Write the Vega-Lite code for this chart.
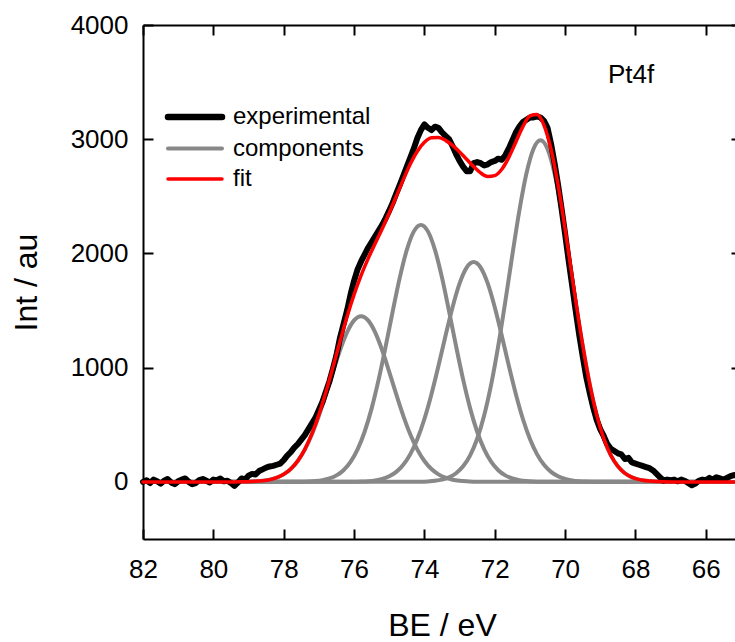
{
  "$schema": "https://vega.github.io/schema/vega-lite/v6.json",
  "width": 598,
  "height": 514,
  "autosize": {"type": "none"},
  "padding": {"left": 143, "top": 25, "right": -6, "bottom": 103},
  "background": "white",
  "config": {
    "view": {"stroke": null},
    "font": "Liberation Sans",
    "axis": {
      "grid": false,
      "domainColor": "black",
      "domainWidth": 2,
      "tickColor": "black",
      "tickWidth": 2,
      "tickSize": -10,
      "labelColor": "black",
      "labelFont": "Liberation Sans",
      "labelFontSize": 26,
      "titleFont": "Liberation Sans",
      "titleFontSize": 32,
      "titleFontWeight": "normal",
      "titleColor": "black",
      "labelFlush": false,
      "labelOverlap": false,
      "format": "d"
    }
  },
  "title": {
    "text": "Pt4f",
    "anchor": "start",
    "frame": "group",
    "dx": 465,
    "offset": -97,
    "baseline": "alphabetic",
    "fontSize": 26,
    "fontWeight": "normal",
    "font": "Liberation Sans",
    "color": "black"
  },
  "datasets": {
    "comp": [
      {"peak": "a", "be": 82, "int": 0}, {"peak": "a", "be": 79.2, "int": 0.9}, {"peak": "a", "be": 79.0, "int": 2.1}, {"peak": "a", "be": 78.8, "int": 4.6}, {"peak": "a", "be": 78.6, "int": 9.7}, {"peak": "a", "be": 78.4, "int": 19.4}, {"peak": "a", "be": 78.2, "int": 36.7}, {"peak": "a", "be": 78.0, "int": 66}, {"peak": "a", "be": 77.8, "int": 112.8}, {"peak": "a", "be": 77.6, "int": 183.3}, {"peak": "a", "be": 77.4, "int": 282.9}, {"peak": "a", "be": 77.2, "int": 414.8}, {"peak": "a", "be": 77.0, "int": 578.3}, {"peak": "a", "be": 76.8, "int": 765.7}, {"peak": "a", "be": 76.6, "int": 963.7}, {"peak": "a", "be": 76.4, "int": 1152.3}, {"peak": "a", "be": 76.2, "int": 1309.2}, {"peak": "a", "be": 76.0, "int": 1413.5}, {"peak": "a", "be": 75.8, "int": 1450}, {"peak": "a", "be": 75.6, "int": 1413.5}, {"peak": "a", "be": 75.4, "int": 1309.2}, {"peak": "a", "be": 75.2, "int": 1152.3}, {"peak": "a", "be": 75.0, "int": 963.7}, {"peak": "a", "be": 74.8, "int": 765.7}, {"peak": "a", "be": 74.6, "int": 578.3}, {"peak": "a", "be": 74.4, "int": 414.8}, {"peak": "a", "be": 74.2, "int": 282.9}, {"peak": "a", "be": 74.0, "int": 183.3}, {"peak": "a", "be": 73.8, "int": 112.8}, {"peak": "a", "be": 73.6, "int": 66}, {"peak": "a", "be": 73.4, "int": 36.7}, {"peak": "a", "be": 73.2, "int": 19.4}, {"peak": "a", "be": 73.0, "int": 9.7}, {"peak": "a", "be": 72.8, "int": 4.6}, {"peak": "a", "be": 72.6, "int": 2.1}, {"peak": "a", "be": 72.4, "int": 0.9}, {"peak": "a", "be": 65, "int": 0},
      {"peak": "b", "be": 82, "int": 0}, {"peak": "b", "be": 77.5, "int": 1.4}, {"peak": "b", "be": 77.3, "int": 3.3}, {"peak": "b", "be": 77.1, "int": 7.2}, {"peak": "b", "be": 76.9, "int": 15.1}, {"peak": "b", "be": 76.7, "int": 30.2}, {"peak": "b", "be": 76.5, "int": 56.9}, {"peak": "b", "be": 76.3, "int": 102.4}, {"peak": "b", "be": 76.1, "int": 175.1}, {"peak": "b", "be": 75.9, "int": 284.4}, {"peak": "b", "be": 75.7, "int": 439}, {"peak": "b", "be": 75.5, "int": 643.7}, {"peak": "b", "be": 75.3, "int": 897.3}, {"peak": "b", "be": 75.1, "int": 1188.2}, {"peak": "b", "be": 74.9, "int": 1495.4}, {"peak": "b", "be": 74.7, "int": 1788.1}, {"peak": "b", "be": 74.5, "int": 2031.5}, {"peak": "b", "be": 74.3, "int": 2193.3}, {"peak": "b", "be": 74.1, "int": 2250}, {"peak": "b", "be": 73.9, "int": 2193.3}, {"peak": "b", "be": 73.7, "int": 2031.5}, {"peak": "b", "be": 73.5, "int": 1788.1}, {"peak": "b", "be": 73.3, "int": 1495.4}, {"peak": "b", "be": 73.1, "int": 1188.2}, {"peak": "b", "be": 72.9, "int": 897.3}, {"peak": "b", "be": 72.7, "int": 643.7}, {"peak": "b", "be": 72.5, "int": 439}, {"peak": "b", "be": 72.3, "int": 284.4}, {"peak": "b", "be": 72.1, "int": 175.1}, {"peak": "b", "be": 71.9, "int": 102.4}, {"peak": "b", "be": 71.7, "int": 56.9}, {"peak": "b", "be": 71.5, "int": 30.2}, {"peak": "b", "be": 71.3, "int": 15.1}, {"peak": "b", "be": 71.1, "int": 7.2}, {"peak": "b", "be": 70.9, "int": 3.3}, {"peak": "b", "be": 70.7, "int": 1.4}, {"peak": "b", "be": 65, "int": 0},
      {"peak": "c", "be": 82, "int": 0}, {"peak": "c", "be": 76.0, "int": 1.2}, {"peak": "c", "be": 75.8, "int": 2.8}, {"peak": "c", "be": 75.6, "int": 6.2}, {"peak": "c", "be": 75.4, "int": 12.9}, {"peak": "c", "be": 75.2, "int": 25.8}, {"peak": "c", "be": 75.0, "int": 48.7}, {"peak": "c", "be": 74.8, "int": 87.6}, {"peak": "c", "be": 74.6, "int": 149.8}, {"peak": "c", "be": 74.4, "int": 243.3}, {"peak": "c", "be": 74.2, "int": 375.6}, {"peak": "c", "be": 74.0, "int": 550.7}, {"peak": "c", "be": 73.8, "int": 767.7}, {"peak": "c", "be": 73.6, "int": 1016.6}, {"peak": "c", "be": 73.4, "int": 1279.4}, {"peak": "c", "be": 73.2, "int": 1529.8}, {"peak": "c", "be": 73.0, "int": 1738.1}, {"peak": "c", "be": 72.8, "int": 1876.5}, {"peak": "c", "be": 72.6, "int": 1925}, {"peak": "c", "be": 72.4, "int": 1876.5}, {"peak": "c", "be": 72.2, "int": 1738.1}, {"peak": "c", "be": 72.0, "int": 1529.8}, {"peak": "c", "be": 71.8, "int": 1279.4}, {"peak": "c", "be": 71.6, "int": 1016.6}, {"peak": "c", "be": 71.4, "int": 767.7}, {"peak": "c", "be": 71.2, "int": 550.7}, {"peak": "c", "be": 71.0, "int": 375.6}, {"peak": "c", "be": 70.8, "int": 243.3}, {"peak": "c", "be": 70.6, "int": 149.8}, {"peak": "c", "be": 70.4, "int": 87.6}, {"peak": "c", "be": 70.2, "int": 48.7}, {"peak": "c", "be": 70.0, "int": 25.8}, {"peak": "c", "be": 69.8, "int": 12.9}, {"peak": "c", "be": 69.6, "int": 6.2}, {"peak": "c", "be": 69.4, "int": 2.8}, {"peak": "c", "be": 69.2, "int": 1.2}, {"peak": "c", "be": 65, "int": 0},
      {"peak": "d", "be": 82, "int": 0}, {"peak": "d", "be": 74.1, "int": 1.9}, {"peak": "d", "be": 73.9, "int": 4.3}, {"peak": "d", "be": 73.7, "int": 9.6}, {"peak": "d", "be": 73.5, "int": 20}, {"peak": "d", "be": 73.3, "int": 40.1}, {"peak": "d", "be": 73.1, "int": 75.6}, {"peak": "d", "be": 72.9, "int": 136}, {"peak": "d", "be": 72.7, "int": 232.6}, {"peak": "d", "be": 72.5, "int": 377.9}, {"peak": "d", "be": 72.3, "int": 583.3}, {"peak": "d", "be": 72.1, "int": 855.4}, {"peak": "d", "be": 71.9, "int": 1192.4}, {"peak": "d", "be": 71.7, "int": 1579}, {"peak": "d", "be": 71.5, "int": 1987.2}, {"peak": "d", "be": 71.3, "int": 2376.2}, {"peak": "d", "be": 71.1, "int": 2699.7}, {"peak": "d", "be": 70.9, "int": 2914.7}, {"peak": "d", "be": 70.7, "int": 2990}, {"peak": "d", "be": 70.5, "int": 2914.7}, {"peak": "d", "be": 70.3, "int": 2699.7}, {"peak": "d", "be": 70.1, "int": 2376.2}, {"peak": "d", "be": 69.9, "int": 1987.2}, {"peak": "d", "be": 69.7, "int": 1579}, {"peak": "d", "be": 69.5, "int": 1192.4}, {"peak": "d", "be": 69.3, "int": 855.4}, {"peak": "d", "be": 69.1, "int": 583.3}, {"peak": "d", "be": 68.9, "int": 377.9}, {"peak": "d", "be": 68.7, "int": 232.6}, {"peak": "d", "be": 68.5, "int": 136}, {"peak": "d", "be": 68.3, "int": 75.6}, {"peak": "d", "be": 68.1, "int": 40.1}, {"peak": "d", "be": 67.9, "int": 20}, {"peak": "d", "be": 67.7, "int": 9.6}, {"peak": "d", "be": 67.5, "int": 4.3}, {"peak": "d", "be": 67.3, "int": 1.9}, {"peak": "d", "be": 65, "int": 0}
    ],
    "exp": [
      {"be": 82.0, "int": 0}, {"be": 81.9, "int": 15}, {"be": 81.8, "int": -10}, {"be": 81.7, "int": 20}, {"be": 81.6, "int": 5}, {"be": 81.5, "int": -15}, {"be": 81.4, "int": 10}, {"be": 81.3, "int": 25}, {"be": 81.2, "int": -5}, {"be": 81.1, "int": -20},
      {"be": 81.0, "int": 5}, {"be": 80.9, "int": 20}, {"be": 80.8, "int": 30}, {"be": 80.7, "int": 0}, {"be": 80.6, "int": -20}, {"be": 80.5, "int": -10}, {"be": 80.4, "int": 15}, {"be": 80.3, "int": 25}, {"be": 80.2, "int": 10}, {"be": 80.1, "int": -5},
      {"be": 80.0, "int": 20}, {"be": 79.9, "int": 15}, {"be": 79.8, "int": 30}, {"be": 79.7, "int": 5}, {"be": 79.6, "int": 10}, {"be": 79.5, "int": -10}, {"be": 79.4, "int": -35}, {"be": 79.3, "int": -5}, {"be": 79.2, "int": 30}, {"be": 79.1, "int": 20},
      {"be": 79.0, "int": 55}, {"be": 78.9, "int": 70}, {"be": 78.8, "int": 65}, {"be": 78.7, "int": 95}, {"be": 78.6, "int": 110}, {"be": 78.5, "int": 125}, {"be": 78.4, "int": 135}, {"be": 78.3, "int": 140}, {"be": 78.2, "int": 150}, {"be": 78.1, "int": 160},
      {"be": 78.0, "int": 190}, {"be": 77.9, "int": 230}, {"be": 77.8, "int": 260}, {"be": 77.7, "int": 300}, {"be": 77.6, "int": 330}, {"be": 77.5, "int": 370}, {"be": 77.4, "int": 410}, {"be": 77.3, "int": 460}, {"be": 77.2, "int": 510}, {"be": 77.1, "int": 560},
      {"be": 77.0, "int": 630}, {"be": 76.9, "int": 700}, {"be": 76.8, "int": 790}, {"be": 76.7, "int": 880}, {"be": 76.6, "int": 990}, {"be": 76.5, "int": 1110}, {"be": 76.4, "int": 1260}, {"be": 76.3, "int": 1380}, {"be": 76.2, "int": 1500}, {"be": 76.1, "int": 1640},
      {"be": 76.0, "int": 1760}, {"be": 75.9, "int": 1860}, {"be": 75.8, "int": 1930}, {"be": 75.7, "int": 1990}, {"be": 75.6, "int": 2050}, {"be": 75.5, "int": 2100}, {"be": 75.4, "int": 2150}, {"be": 75.3, "int": 2200}, {"be": 75.2, "int": 2250}, {"be": 75.1, "int": 2310},
      {"be": 75.0, "int": 2375}, {"be": 74.9, "int": 2445}, {"be": 74.8, "int": 2525}, {"be": 74.7, "int": 2600}, {"be": 74.6, "int": 2680}, {"be": 74.5, "int": 2760}, {"be": 74.4, "int": 2840}, {"be": 74.3, "int": 2920}, {"be": 74.2, "int": 3010}, {"be": 74.1, "int": 3080},
      {"be": 74.0, "int": 3130}, {"be": 73.9, "int": 3100}, {"be": 73.8, "int": 3080}, {"be": 73.7, "int": 3110}, {"be": 73.6, "int": 3100}, {"be": 73.5, "int": 3060}, {"be": 73.4, "int": 3030}, {"be": 73.3, "int": 3000}, {"be": 73.2, "int": 2940}, {"be": 73.1, "int": 2870},
      {"be": 73.0, "int": 2810}, {"be": 72.9, "int": 2760}, {"be": 72.8, "int": 2720}, {"be": 72.7, "int": 2720}, {"be": 72.6, "int": 2790}, {"be": 72.5, "int": 2800}, {"be": 72.4, "int": 2790}, {"be": 72.3, "int": 2770}, {"be": 72.2, "int": 2780}, {"be": 72.1, "int": 2800},
      {"be": 72.0, "int": 2810}, {"be": 71.9, "int": 2830}, {"be": 71.8, "int": 2820}, {"be": 71.7, "int": 2860}, {"be": 71.6, "int": 2920}, {"be": 71.5, "int": 2990}, {"be": 71.4, "int": 3060}, {"be": 71.3, "int": 3110}, {"be": 71.2, "int": 3150}, {"be": 71.1, "int": 3170},
      {"be": 71.0, "int": 3190}, {"be": 70.9, "int": 3190}, {"be": 70.8, "int": 3200}, {"be": 70.7, "int": 3190}, {"be": 70.6, "int": 3160}, {"be": 70.5, "int": 3100}, {"be": 70.4, "int": 2960}, {"be": 70.3, "int": 2790}, {"be": 70.2, "int": 2600}, {"be": 70.1, "int": 2390},
      {"be": 70.0, "int": 2170}, {"be": 69.9, "int": 1940}, {"be": 69.8, "int": 1720}, {"be": 69.7, "int": 1500}, {"be": 69.6, "int": 1290}, {"be": 69.5, "int": 1100}, {"be": 69.4, "int": 920}, {"be": 69.3, "int": 780}, {"be": 69.2, "int": 650}, {"be": 69.1, "int": 540},
      {"be": 69.0, "int": 460}, {"be": 68.9, "int": 400}, {"be": 68.8, "int": 330}, {"be": 68.7, "int": 290}, {"be": 68.6, "int": 270}, {"be": 68.5, "int": 250}, {"be": 68.4, "int": 240}, {"be": 68.3, "int": 200}, {"be": 68.2, "int": 210}, {"be": 68.1, "int": 170},
      {"be": 68.0, "int": 160}, {"be": 67.9, "int": 150}, {"be": 67.8, "int": 140}, {"be": 67.7, "int": 130}, {"be": 67.6, "int": 120}, {"be": 67.5, "int": 100}, {"be": 67.4, "int": 70}, {"be": 67.3, "int": 40}, {"be": 67.2, "int": 10}, {"be": 67.1, "int": 20},
      {"be": 67.0, "int": 15}, {"be": 66.9, "int": 20}, {"be": 66.8, "int": 5}, {"be": 66.7, "int": 20}, {"be": 66.6, "int": 10}, {"be": 66.5, "int": -10}, {"be": 66.4, "int": -30}, {"be": 66.3, "int": -15}, {"be": 66.2, "int": 10}, {"be": 66.1, "int": 20},
      {"be": 66.0, "int": 15}, {"be": 65.9, "int": 35}, {"be": 65.8, "int": 20}, {"be": 65.7, "int": 40}, {"be": 65.6, "int": 30}, {"be": 65.5, "int": 20}, {"be": 65.4, "int": 35}, {"be": 65.3, "int": 50}, {"be": 65.2, "int": 60}, {"be": 65.1, "int": 55},
      {"be": 65.0, "int": 45}
    ],
    "fit": [
      {"be": 82.0, "int": 0}, {"be": 81.0, "int": 0}, {"be": 80.0, "int": 0}, {"be": 79.4, "int": 0}, {"be": 79.2, "int": 1}, {"be": 79.0, "int": 2}, {"be": 78.8, "int": 5}, {"be": 78.6, "int": 10}, {"be": 78.4, "int": 19}, {"be": 78.2, "int": 37},
      {"be": 78.0, "int": 66}, {"be": 77.8, "int": 113}, {"be": 77.6, "int": 184}, {"be": 77.4, "int": 285}, {"be": 77.2, "int": 420}, {"be": 77.0, "int": 589}, {"be": 76.8, "int": 787}, {"be": 76.6, "int": 1005}, {"be": 76.4, "int": 1229}, {"be": 76.2, "int": 1445},
      {"be": 76.0, "int": 1639}, {"be": 75.8, "int": 1808}, {"be": 75.6, "int": 1955}, {"be": 75.4, "int": 2087}, {"be": 75.2, "int": 2217}, {"be": 75.0, "int": 2354}, {"be": 74.8, "int": 2499}, {"be": 74.6, "int": 2646}, {"be": 74.4, "int": 2783}, {"be": 74.2, "int": 2895},
      {"be": 74.0, "int": 2973}, {"be": 73.8, "int": 3012}, {"be": 73.6, "int": 3015}, {"be": 73.4, "int": 2990}, {"be": 73.2, "int": 2946}, {"be": 73.0, "int": 2889}, {"be": 72.8, "int": 2825}, {"be": 72.6, "int": 2761}, {"be": 72.4, "int": 2705}, {"be": 72.2, "int": 2674},
      {"be": 72.0, "int": 2681}, {"be": 71.8, "int": 2737}, {"be": 71.6, "int": 2841}, {"be": 71.4, "int": 2976}, {"be": 71.2, "int": 3110}, {"be": 71.0, "int": 3204}, {"be": 70.8, "int": 3216}, {"be": 70.6, "int": 3122}, {"be": 70.4, "int": 2911}, {"be": 70.2, "int": 2598},
      {"be": 70.0, "int": 2213}, {"be": 69.8, "int": 1796}, {"be": 69.6, "int": 1387}, {"be": 69.4, "int": 1019}, {"be": 69.2, "int": 712}, {"be": 69.0, "int": 473}, {"be": 68.8, "int": 299}, {"be": 68.6, "int": 179}, {"be": 68.4, "int": 102}, {"be": 68.2, "int": 55},
      {"be": 68.0, "int": 28}, {"be": 67.8, "int": 14}, {"be": 67.6, "int": 7}, {"be": 67.4, "int": 3}, {"be": 67.2, "int": 1}, {"be": 67.0, "int": 0}, {"be": 66.0, "int": 0}, {"be": 65.0, "int": 0}
    ]
  },
  "layer": [
    {
      "data": {"name": "comp"},
      "mark": {"type": "line", "interpolate": "monotone", "strokeWidth": 4, "strokeCap": "round", "strokeJoin": "round"},
      "encoding": {
        "x": {
          "field": "be", "type": "quantitative",
          "scale": {"domain": [65, 82], "reverse": true, "nice": false, "zero": false},
          "axis": {"orient": "bottom", "values": [82, 80, 78, 76, 74, 72, 70, 68, 66], "title": "BE / eV", "titleY": 96, "titleBaseline": "alphabetic", "labelPadding": 27}
        },
        "y": {
          "field": "int", "type": "quantitative",
          "scale": {"domain": [-500, 4000], "nice": false, "zero": false},
          "axis": {"orient": "left", "values": [0, 1000, 2000, 3000, 4000], "title": "Int / au", "titleX": -107, "titleY": 257, "titleAngle": -90, "titleAlign": "center", "titleBaseline": "alphabetic", "labelPadding": 25}
        },
        "detail": {"field": "peak"},
        "color": {
          "datum": "components", "type": "nominal",
          "scale": {"domain": ["experimental", "components", "fit"], "range": ["#000000", "#888888", "#ff0000"]},
          "legend": {
            "title": null, "orient": "none", "legendX": 40, "legendY": 80,
            "symbolType": "stroke", "symbolSize": 2916, "symbolStrokeWidth": 4,
            "labelFontSize": 24, "labelFont": "Liberation Sans", "labelColor": "black",
            "labelOffset": 26, "rowPadding": 6.5, "padding": 0,
            "encode": {"symbols": {"update": {"strokeWidth": {"signal": "datum.value === 'experimental' ? 6.5 : datum.value === 'fit' ? 3.5 : 4"}, "strokeCap": {"value": "round"}}}}
          }
        }
      }
    },
    {
      "data": {"name": "exp"},
      "mark": {"type": "line", "strokeWidth": 6, "strokeCap": "round", "strokeJoin": "round"},
      "encoding": {
        "x": {"field": "be", "type": "quantitative", "axis": {"orient": "top", "values": [82, 80, 78, 76, 74, 72, 70, 68, 66], "labels": false, "title": null}},
        "y": {"field": "int", "type": "quantitative", "axis": {"orient": "right", "values": [0, 1000, 2000, 3000, 4000], "labels": false, "title": null}},
        "color": {"datum": "experimental", "type": "nominal"}
      }
    },
    {
      "data": {"name": "fit"},
      "mark": {"type": "line", "interpolate": "monotone", "strokeWidth": 3.5, "strokeCap": "round", "strokeJoin": "round"},
      "encoding": {
        "x": {"field": "be", "type": "quantitative", "axis": null},
        "y": {"field": "int", "type": "quantitative", "axis": null},
        "color": {"datum": "fit", "type": "nominal"}
      }
    }
  ],
  "resolve": {"axis": {"x": "independent", "y": "independent"}}
}
